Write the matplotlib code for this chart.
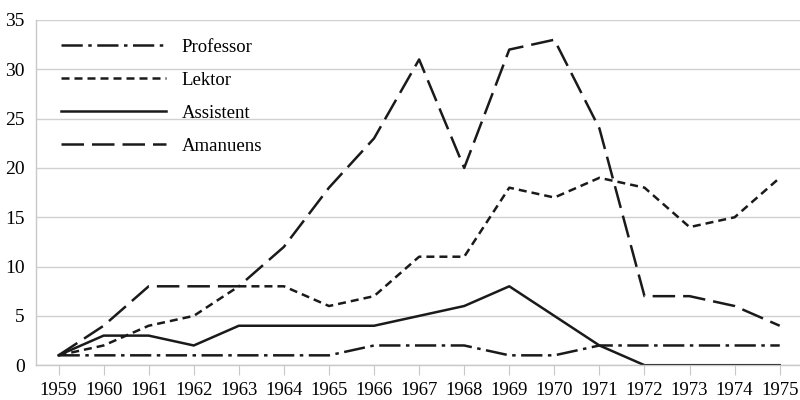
import matplotlib
matplotlib.use("Agg")
import matplotlib.pyplot as plt

# === DATA ===
years = [str(y) for y in range(1959, 1976)]
professor = [1, 1, 1, 1, 1, 1, 1, 2, 2, 2, 1, 1, 2, 2, 2, 2, 2]
lektor = [1, 2, 4, 5, 8, 8, 6, 7, 11, 11, 18, 17, 19, 18, 14, 15, 19]
assistent = [1, 3, 3, 2, 4, 4, 4, 4, 5, 6, 8, 5, 2, 0, 0, 0, 0]
amanuens = [1, 4, 8, 8, 8, 12, 18, 23, 31, 20, 32, 33, 24, 7, 7, 6, 4]
yticks = [0, 5, 10, 15, 20, 25, 30, 35]

plt.rcParams['font.family'] = ['Liberation Serif', 'DejaVu Serif']

fig = plt.figure(figsize=(8, 4), dpi=100)
ax = fig.add_axes([0.045, 0.087, 0.955, 0.863])

x = list(range(len(years)))
lw = 1.8
ax.plot(x, professor, color='#1a1a1a', lw=lw, dashes=(8.5, 2.2, 1.4, 2.2), label='Professor')
ax.plot(x, lektor, color='#1a1a1a', lw=lw, dashes=(3.2, 2.0), label='Lektor')
ax.plot(x, assistent, color='#1a1a1a', lw=lw, label='Assistent')
ax.plot(x, amanuens, color='#1a1a1a', lw=lw, dashes=(9, 3.2), label='Amanuens')

ax.set_xlim(-0.5, 16.45)
ax.set_ylim(0, 35)
ax.set_xticks(x)
ax.set_xticklabels(years)
ax.set_yticks(yticks)
ax.grid(axis='y', color='#d0d0d0', lw=1)
ax.set_axisbelow(True)

for s in ['top', 'right']:
    ax.spines[s].set_visible(False)
for s in ['left', 'bottom']:
    ax.spines[s].set_color('#c8c8c8')
    ax.spines[s].set_linewidth(1)
ax.tick_params(axis='x', length=7, color='#c8c8c8', labelsize=13.5, pad=5)
ax.tick_params(axis='y', length=0, labelsize=14, pad=8)

ax.legend(loc='upper left', frameon=False, fontsize=13.5, handlelength=5.6,
          handletextpad=0.85, labelspacing=0.85, bbox_to_anchor=(0.01, 0.995))

fig.savefig('out.png', dpi=100)
